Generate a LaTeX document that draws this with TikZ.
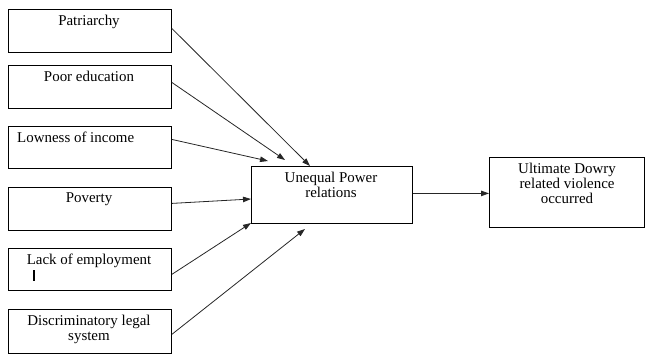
\documentclass[tikz,border=0pt]{standalone}
\usepackage{fontspec}
\setmainfont{Liberation Serif}
\usetikzlibrary{arrows.meta,calc}
\begin{document}
\begin{tikzpicture}[x=1bp,y=-1bp,
  box/.style={draw=black,line width=0.8bp,inner sep=0pt,anchor=north west},
  lbl/.style={inner sep=0pt,anchor=north,align=center,font=\fontsize{15}{15}\selectfont},
  arr/.style={draw=black!85,line width=0.8bp,-{Triangle[length=8bp,width=5.5bp]}}]
\useasboundingbox (0,0) rectangle (645,354);
% left boxes
\node[box,minimum width=163bp,minimum height=43bp] (b1) at (8,9) {};
\node[box,minimum width=163bp,minimum height=43bp] (b2) at (8,65) {};
\node[box,minimum width=163bp,minimum height=42bp] (b3) at (8,126) {};
\node[box,minimum width=163bp,minimum height=43bp] (b4) at (8,187) {};
\node[box,minimum width=163bp,minimum height=42bp] (b5) at (8,248) {};
\node[box,minimum width=163bp,minimum height=44bp] (b6) at (8,309) {};
% center and right boxes
\node[box,minimum width=161bp,minimum height=57bp] (c) at (251,166) {};
\node[box,minimum width=155bp,minimum height=70bp] (r) at (489,157) {};
% texts
\node[lbl] (t1) at (89,15) {Patriarchy};
\node[lbl] (t2) at (89,71) {Poor education};
\node[lbl,anchor=north west] (t3) at (17,132) {Lowness of income};
\node[lbl] (t4) at (89,193) {Poverty};
\node[lbl] (t5) at (89,254) {Lack of employment};
\node[lbl] (t6) at (89,315) {Discriminatory legal\\system};
\node[lbl] (tc) at (331,172) {Unequal Power\\relations};
\node[lbl] (tr) at (567,163) {Ultimate Dowry\\related violence\\occurred};
% cursor mark
\coordinate (k1) at (34,270);
\coordinate (k2) at (34,281);
\draw[line width=1.4bp] (k1) -- (k2);
% arrow end points
\coordinate (e1) at (310,166);
\coordinate (e2) at (285,160);
\coordinate (e3) at (268,161);
\coordinate (e4) at (251,199);
\coordinate (e5) at (251,223);
\coordinate (e6) at (305,229);
\draw[arr] ($(b1.east)+(0,-2.5)$) -- (e1);
\draw[arr] ($(b2.east)+(0,-4.5)$) -- (e2);
\draw[arr] ($(b3.east)+(0,-8)$) -- (e3);
\draw[arr] ($(b4.east)+(0,-5.5)$) -- (e4);
\draw[arr] ($(b5.east)+(0,5)$) -- (e5);
\draw[arr] ($(b6.east)+(0,3)$) -- (e6);
\draw[arr] ($(c.east)+(0,-1.5)$) -- ($(r.west)+(0,1)$);
\end{tikzpicture}
\end{document}
